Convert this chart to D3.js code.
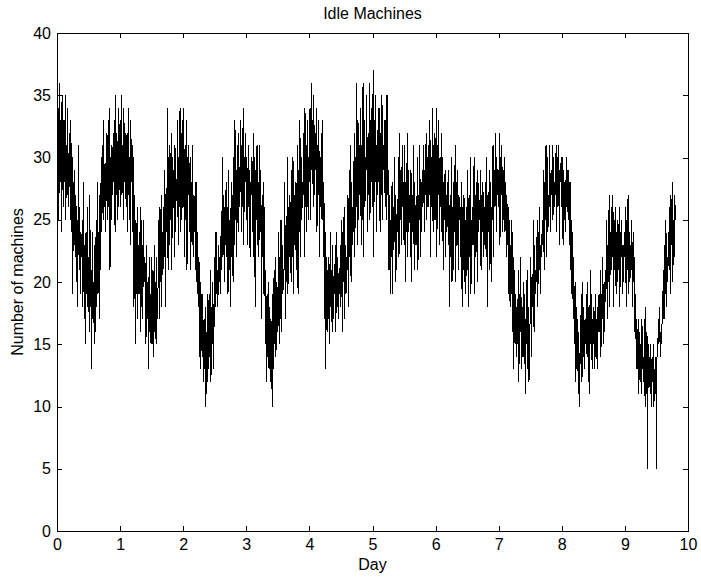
<!DOCTYPE html>
<html>
<head>
<meta charset="utf-8">
<title>Idle Machines</title>
<script src="https://cdn.jsdelivr.net/npm/d3@7"></script>
<style>
	body { margin: 0; background: #fff; }
	svg text { font-family: "Liberation Sans", Arial, Helvetica, sans-serif; font-size: 16px; fill: #000; }
	.axis path, .axis line { stroke: #000; shape-rendering: crispEdges; }
	.trace { fill: none; stroke: #000; stroke-width: 1; shape-rendering: crispEdges; }
</style>
</head>
<body>
<svg id="myGraph" width="701" height="578"></svg>
<script>
// one sample every 0.01 day, starting at day 0 (one row = 0.1 day)
var sampleStep = 0.01;
var idleMachines = [
	39,27,34,25,36,28,33,24,35,29,
	26,33,28,35,25,31,27,34,26,30,
	32,25,33,24,30,19,28,23,29,22,
	27,20,25,18,31,21,26,19,24,22,
	25,18,28,17,23,15,24,19,26,18,
	22,16,27,18,21,13,24,17,20,15,
	23,16,25,18,28,19,24,17,27,21,
	30,24,31,25,33,26,29,24,32,27,
	25,33,26,34,21,30,25,31,27,32,
	28,33,24,35,27,32,25,34,26,31,
	33,26,35,27,31,25,34,28,32,27,
	26,32,24,34,27,30,23,33,28,31,
	24,30,18,27,15,25,19,26,17,23,
	19,24,16,26,18,23,17,25,20,22,
	21,15,23,17,20,13,22,16,19,15,
	22,15,21,14,23,16,20,15,22,17,
	19,25,17,26,20,27,18,24,21,26,
	22,29,18,27,24,34,21,30,23,31,
	25,32,21,30,26,29,22,31,24,28,
	27,33,23,30,26,34,24,32,25,33,
	26,34,22,31,25,33,21,30,27,31,
	24,30,21,28,23,31,22,27,24,28,
	21,28,19,24,18,22,14,20,13,19,
	14,19,12,17,13,18,10,16,12,19,
	13,19,14,21,12,18,15,20,13,17,
	22,18,24,19,21,18,23,20,22,19,
	24,21,30,22,27,20,26,23,28,22,
	26,19,29,21,25,18,28,22,27,20,
	30,23,33,25,29,22,31,24,32,26,
	27,33,24,31,26,34,23,30,28,32,
	25,30,23,31,26,29,22,28,27,30,
	24,32,22,30,18,29,25,31,23,28,
	22,31,24,29,17,27,22,28,19,26,
	15,21,12,19,14,20,13,18,12,17,
	16,10,19,13,21,15,22,14,20,16,
	18,24,15,22,17,25,16,23,19,21,
	21,28,17,25,20,30,19,26,22,27,
	25,20,29,22,30,19,27,23,28,21,
	26,31,19,29,24,33,22,30,25,28,
	27,32,22,34,26,31,24,33,25,30,
	28,34,25,36,29,33,26,35,27,32,
	29,34,24,31,27,33,22,30,26,32,
	25,33,22,28,17,24,13,22,16,21,
	17,22,15,24,18,21,16,23,17,20,
	19,23,16,24,18,22,17,21,19,23,
	18,25,16,24,20,26,17,23,19,22,
	21,27,18,29,22,31,20,28,23,26,
	24,32,22,30,26,36,23,33,25,31,
	27,34,23,31,25,36,22,33,26,30,
	29,35,24,32,27,36,25,33,28,34,
	26,37,22,33,28,35,24,31,27,34,
	28,34,24,32,27,35,25,31,29,33,
	26,33,25,35,27,29,21,27,19,25,
	22,28,19,26,23,30,20,27,21,25,
	24,30,22,32,25,29,23,31,26,28,
	23,31,20,28,24,32,22,29,25,27,
	22,29,20,27,24,31,21,28,23,26,
	23,30,21,27,25,31,22,28,24,29,
	26,31,24,29,27,32,25,30,26,31,
	27,33,22,30,26,34,24,31,25,32,
	25,34,22,31,27,33,23,30,26,32,
	24,30,21,28,25,29,22,27,24,28,
	23,29,18,27,22,30,20,26,21,28,
	24,31,20,28,23,29,21,27,25,26,
	22,28,18,26,21,27,20,25,19,26,
	21,29,18,27,22,30,19,25,23,26,
	23,30,19,27,22,28,20,29,24,26,
	25,29,21,27,24,28,22,26,23,28,
	22,30,18,27,24,29,21,28,20,26,
	25,31,22,29,26,32,24,30,27,29,
	26,32,23,30,27,31,24,29,25,30,
	24,28,22,27,23,26,19,25,18,23,
	19,25,16,22,13,21,15,19,14,18,
	15,21,12,19,16,22,13,18,14,20,
	14,19,11,17,15,21,13,18,12,16,
	17,22,14,20,18,25,16,23,19,21,
	20,25,18,24,21,26,19,23,22,25,
	23,29,21,28,25,31,22,30,24,27,
	26,31,24,29,27,31,25,30,26,28,
	27,31,24,30,26,31,23,29,28,30,
	26,30,23,29,25,28,24,30,26,29,
	25,29,23,28,21,25,19,24,17,22,
	15,20,12,18,13,17,11,16,10,14,
	16,19,12,20,14,18,13,17,15,19,
	14,20,12,18,11,21,15,19,13,17,
	15,18,13,19,14,17,13,18,16,19,
	16,21,14,19,17,22,15,20,16,21,
	19,25,17,23,20,27,18,24,21,26,
	22,27,18,25,21,26,19,24,20,25,
	21,26,18,24,22,25,19,23,20,24,
	22,26,18,25,21,27,19,24,20,23,
	21,25,18,24,20,22,16,19,13,17,
	13,17,11,16,12,15,11,17,13,14,
	12,17,10,18,11,16,5,15,12,14,
	11,15,10,14,12,15,10,13,11,14,
	5,15,14,17,15,18,14,16,15,17,
	18,21,17,23,19,25,18,22,20,24,
	21,26,19,27,23,28,20,25,22,27,
	25
];
var xTicks = [0,1,2,3,4,5,6,7,8,9,10];
var yTicks = [0,5,10,15,20,25,30,35,40];

window.addEventListener("load", function(){
	var svg = d3.select("#myGraph");
	var left = 57, right = 688, top = 33, bottom = 531;
	var tickLen = 5;

	var xScale = d3.scaleLinear().domain([0, 10]).range([left, right]);
	var yScale = d3.scaleLinear().domain([0, 40]).range([bottom, top]);

	// bottom / left axes with labels, ticks pointing inward
	svg.append("g")
		.attr("class", "axis")
		.attr("transform", "translate(0," + bottom + ")")
		.call(d3.axisBottom(xScale).tickValues(xTicks).tickSize(-tickLen).tickPadding(8).tickSizeOuter(0))
		.call(function(g){ g.selectAll("text").attr("dy", "0.71em").style("font-size", "16px").attr("font-family", null); });

	svg.append("g")
		.attr("class", "axis")
		.attr("transform", "translate(" + left + ",0)")
		.call(d3.axisLeft(yScale).tickValues(yTicks).tickSize(-tickLen).tickPadding(6).tickSizeOuter(0))
		.call(function(g){ g.selectAll("text").style("font-size", "16px").attr("font-family", null); });

	// top / right axes: ticks only
	svg.append("g")
		.attr("class", "axis")
		.attr("transform", "translate(0," + top + ")")
		.call(d3.axisTop(xScale).tickValues(xTicks).tickSize(-tickLen).tickFormat("").tickSizeOuter(0));

	svg.append("g")
		.attr("class", "axis")
		.attr("transform", "translate(" + right + ",0)")
		.call(d3.axisRight(yScale).tickValues(yTicks).tickSize(-tickLen).tickFormat("").tickSizeOuter(0));

	// the trace
	var line = d3.line()
		.x(function(d, i){ return xScale(i * sampleStep); })
		.y(function(d){ return yScale(d); });

	svg.append("path")
		.datum(idleMachines)
		.attr("class", "trace")
		.attr("d", line);

	svg.append("text")
		.attr("x", (left + right) / 2)
		.attr("y", 19)
		.attr("text-anchor", "middle")
		.text("Idle Machines");

	svg.append("text")
		.attr("x", (left + right) / 2)
		.attr("y", 570)
		.attr("text-anchor", "middle")
		.text("Day");

	svg.append("text")
		.attr("transform", "translate(23," + ((top + bottom) / 2) + ") rotate(-90)")
		.attr("text-anchor", "middle")
		.text("Number of machines");
});
</script>
</body>
</html>
